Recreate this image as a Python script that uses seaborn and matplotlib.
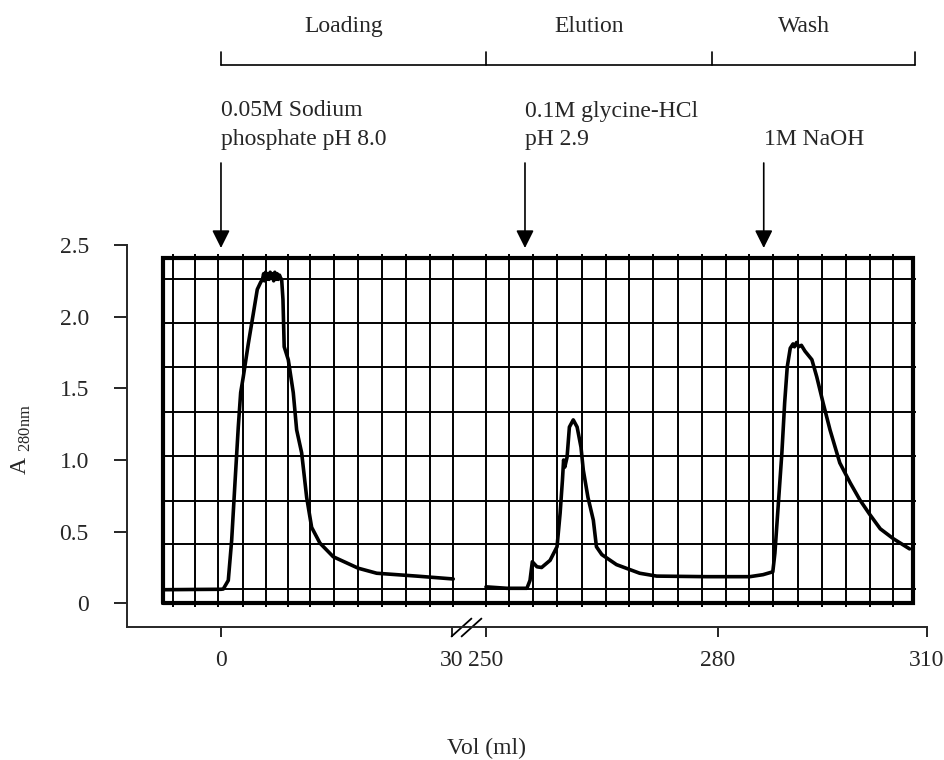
import numpy as np
import matplotlib
matplotlib.use('Agg')
import matplotlib.pyplot as plt
from matplotlib import transforms as mtransforms
from matplotlib.path import Path
import seaborn as sns

# A280 trace, loading part (ml)
vol_load = [-7.5, -3.0, 0.0, 0.3, 0.95, 1.39, 1.82, 2.25, 2.56, 2.90, 3.55, 4.20, 4.72, 5.16,
            5.40, 5.55, 5.65, 5.80, 5.95, 6.10, 6.25, 6.40, 6.55, 6.70, 6.85, 7.00, 7.15, 7.30,
            7.45, 7.60, 7.75, 7.89,
            8.06, 8.22, 8.75, 9.40, 9.84, 10.49, 11.14, 11.79, 12.87, 14.60, 17.85, 20.25, 25.45, 30.2]
a280_load = [0.095, 0.097, 0.098, 0.10, 0.16, 0.44, 0.84, 1.23, 1.47, 1.58, 1.81, 2.02, 2.19, 2.24,
             2.26, 2.30, 2.25, 2.31, 2.26, 2.30, 2.26, 2.31, 2.27, 2.30, 2.25, 2.31, 2.26, 2.30,
             2.26, 2.29, 2.27, 2.26,
             2.12, 1.79, 1.70, 1.47, 1.21, 1.05, 0.74, 0.53, 0.42, 0.325, 0.245, 0.21, 0.19, 0.17]

# elution + wash part (ml)
vol_elute = [250.0, 252.7, 255.3, 255.7, 256.0, 256.6, 257.2, 258.3, 259.2, 259.6, 259.9, 260.05,
             260.2, 260.5, 260.8, 261.3, 261.8, 262.3, 262.6, 263.2, 263.9, 264.3, 265.0, 266.9,
             269.9, 272.1, 278.6, 284.6, 286.5, 287.9, 288.2, 288.7, 289.2, 289.6, 289.97, 290.4,
             290.8, 291.0, 291.3, 291.6, 292.0, 292.5, 293.5, 294.2, 295.1, 296.1, 297.5, 299.0,
             300.4, 301.8, 303.3, 305.2, 307.5]
a280_elute = [0.115, 0.105, 0.105, 0.16, 0.29, 0.255, 0.25, 0.30, 0.395, 0.63, 0.86, 1.00,
              0.95, 1.02, 1.23, 1.28, 1.23, 1.09, 0.93, 0.74, 0.58, 0.395, 0.34, 0.27,
              0.21, 0.19, 0.186, 0.186, 0.20, 0.22, 0.35, 0.70, 1.05, 1.40, 1.65, 1.78,
              1.81, 1.79, 1.82, 1.79, 1.80, 1.76, 1.70, 1.58, 1.40, 1.21, 0.98, 0.84,
              0.72, 0.62, 0.52, 0.45, 0.38]

# chart paper rulings
paper_x = [-6.28, -3.38, -0.39, 2.86, 5.85, 8.71, 11.57, 14.69, 17.82, 20.94, 24.06, 27.18, 30.17,
           250.0, 252.98, 256.09, 259.20, 262.44, 265.54, 268.52, 271.63, 274.87, 277.98,
           281.19, 284.48, 287.92, 291.50, 294.94, 298.38, 301.81, 305.11]
paper_y = [0.098, 0.412, 0.716, 1.030, 1.337, 1.651, 1.958, 2.263]
paper_x_edges = [-7.54, 307.98]
paper_y_edges = [0.0, 2.407]

# buffers and phases
buffer_vol = [0, 255.05, 286.6]
buffer_text = [['0.05M Sodium', 'phosphate pH 8.0'], ['0.1M glycine-HCl', 'pH 2.9'], ['1M NaOH']]
phase_edges = [0, 250, 279.3, 308.3]
phase_names = ['Loading', 'Elution', 'Wash']

xticks = [0, 30, 250, 280, 310]
yticks = [0, 0.5, 1.0, 1.5, 2.0, 2.5]
ytick_labels = ['0', '0.5', '1.0', '1.5', '2.0', '2.5']

# broken volume axis: 30 -> 250 ml squeezed into a small gap
brk_ml = [-100, 31, 250, 280, 310, 500]
brk_u = [-548, 459.4, 486, 717.7, 927, 2253]


def fwd(x):
    return np.interp(x, brk_ml, brk_u)


def inv(u):
    return np.interp(u, brk_u, brk_ml)


sns.set_style('ticks')
plt.rcParams['font.family'] = ['Liberation Serif', 'DejaVu Serif']
plt.rcParams['mathtext.fontset'] = 'custom'
plt.rcParams['mathtext.rm'] = 'Liberation Serif'

W, H = 945, 760
fig = plt.figure(figsize=(W / 100, H / 100), dpi=100)
ax = fig.add_axes([127 / W, 1 - 626.7 / H, 800 / W, (626.7 - 245) / H])
ax.set_xscale('function', functions=(fwd, inv))

# paper grid + frame
ax.vlines(paper_x, -0.026, 2.44, colors='black', lw=1.4, zorder=1)
ax.hlines(paper_y, paper_x_edges[0], 308.4, colors='black', lw=1.4, zorder=1)
x0, x1 = paper_x_edges
y0, y1 = paper_y_edges
ax.plot([x0, x1, x1, x0, x0], [y0, y0, y1, y1, y0], color='black', lw=3,
        solid_joinstyle='miter', zorder=2)

sns.lineplot(x=vol_load, y=a280_load, ax=ax, color='black', lw=2.6, sort=False,
             estimator=None, zorder=4)
sns.lineplot(x=vol_elute, y=a280_elute, ax=ax, color='black', lw=2.6, sort=False,
             estimator=None, zorder=4)

sns.despine(ax=ax)
ax.spines['left'].set_linewidth(1.4)
ax.spines['bottom'].set_linewidth(1.4)
ax.set_xticks(xticks)
ax.set_xticklabels([str(t) for t in xticks])
ax.set_yticks(yticks)
ax.set_yticklabels(ytick_labels)
ax.tick_params(axis='y', length=9.5, width=1.2, pad=18, labelsize=17, color='black')
ax.tick_params(axis='x', length=7.5, width=1.2, pad=9, labelsize=17, color='black')
ax.set_xlabel('')
ax.set_ylabel('')

# axis break mark
slash = Path([(-1, -0.9), (1, 0.9)], [Path.MOVETO, Path.LINETO])
for dx in (9, 19.5):
    off = mtransforms.ScaledTranslation(dx / 100, 0, fig.dpi_scale_trans)
    ax.plot([30], [0], marker=slash, ms=15, mew=1.3, color='black', ls='none',
            transform=ax.get_xaxis_transform() + off, clip_on=False)

# annotations above the chart
top = mtransforms.blended_transform_factory(ax.transData, fig.transFigure)


def fy(p):
    return 1 - p / H


ax.plot([phase_edges[0], phase_edges[-1]], [fy(65), fy(65)], color='black', lw=1.2,
        transform=top, clip_on=False)
for e in phase_edges:
    ax.plot([e, e], [fy(65), fy(52)], color='black', lw=1.2, transform=top, clip_on=False)
for a, b, name in zip(phase_edges[:-1], phase_edges[1:], phase_names):
    xc = inv((fwd(a) + fwd(b)) / 2 - 10)
    ax.text(xc, fy(32), name, transform=top, ha='center', va='baseline', fontsize=17)

for v, lines in zip(buffer_vol, buffer_text):
    for i, line in enumerate(reversed(lines)):
        ax.text(v, fy(145 - 28.5 * i), line, transform=top, ha='left', va='baseline',
                fontsize=17)
    ax.annotate('', xy=(v, fy(248)), xycoords=top, xytext=(v, fy(163)), textcoords=top,
                arrowprops=dict(arrowstyle='-|>,head_length=0.54,head_width=0.27',
                                mutation_scale=20, lw=1.2, color='black',
                                shrinkA=0, shrinkB=0))

fig.text(21 / W, fy(440), r'A $_{\mathrm{280nm}}$', rotation=90, ha='center', va='center',
         fontsize=17)
fig.text(487 / W, fy(748), 'Vol (ml)', ha='center', va='center', fontsize=17)

ax.set_xlim(-12.22, 310)
ax.set_ylim(-0.163, 2.5)

fig.savefig('out.png', dpi=100)
